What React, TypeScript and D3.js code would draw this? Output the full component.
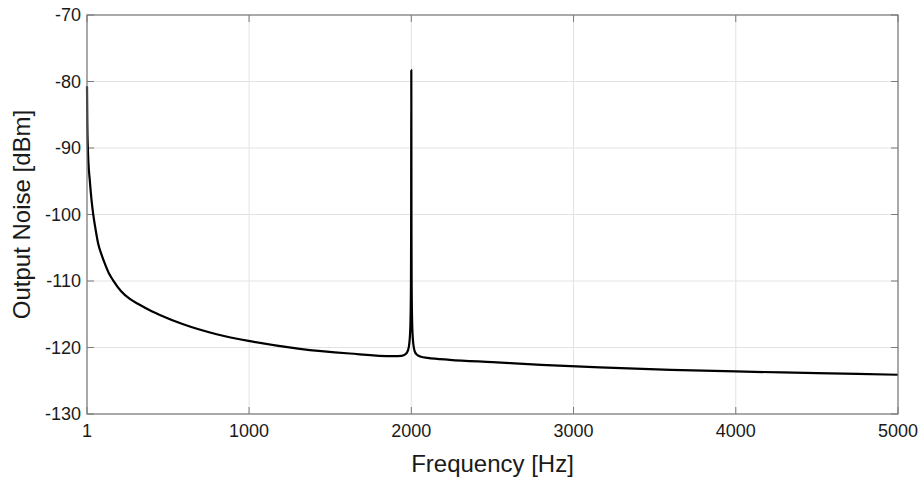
import React from "react";
import * as d3 from "d3";

const freqs = [1, 3, 6, 10, 18, 28, 39, 55, 70, 90, 111, 135, 162, 210, 265, 320, 388, 450, 594, 800, 1005, 1313, 1621, 1888, 1940, 1965, 1980, 1990, 1995, 1998, 1999, 2000, 2001, 2002, 2005, 2010, 2020, 2035, 2060, 2100, 2237, 2500, 2800, 3162, 3600, 4000, 4500, 5000];
const noise = [-80.7, -86.5, -89.8, -92.3, -94.8, -97.6, -99.9, -102.4, -104.4, -106.0, -107.4, -108.8, -109.9, -111.5, -112.7, -113.5, -114.4, -115.1, -116.5, -118.0, -119.05, -120.2, -120.9, -121.3, -121.25, -121.0, -120.4, -118.8, -116.0, -110.0, -102.0, -78.3, -102.0, -110.0, -116.0, -118.8, -120.5, -121.1, -121.4, -121.55, -121.85, -122.2, -122.6, -123.0, -123.35, -123.6, -123.85, -124.1];

const xTicks = [1, 1000, 2000, 3000, 4000, 5000];
const yTicks = [-130, -120, -110, -100, -90, -80, -70];

const W = 922, H = 480;
const M = { left: 87, right: 898, top: 15, bottom: 414 };

export default function App() {
  const x = d3.scaleLinear().domain([1, 5000]).range([M.left, M.right]);
  const y = d3.scaleLinear().domain([-130, -70]).range([M.bottom, M.top]);
  const pts = freqs.map((f, i) => [f, noise[i]] as [number, number]);
  const line = d3.line<[number, number]>().x(d => x(d[0])).y(d => y(d[1])).curve(d3.curveMonotoneX);
  const font = "Liberation Sans, Arial, Helvetica, sans-serif";
  const axisColor = "#7a7a7a";
  const tl = 7;
  return (
    <svg width={W} height={H} style={{ position: "absolute", left: 0, top: 0, background: "#fff" }} fontFamily={font}>
      <rect x={0} y={0} width={W} height={H} fill="#fff" />
      {xTicks.map(t => (
        <line key={"gx" + t} x1={x(t)} x2={x(t)} y1={M.top} y2={M.bottom} stroke="#e3e3e3" strokeWidth={1} />
      ))}
      {yTicks.map(t => (
        <line key={"gy" + t} x1={M.left} x2={M.right} y1={y(t)} y2={y(t)} stroke="#e3e3e3" strokeWidth={1} />
      ))}
      {xTicks.map(t => (
        <g key={"tx" + t}>
          <line x1={x(t)} x2={x(t)} y1={M.bottom} y2={M.bottom - tl} stroke={axisColor} />
          <line x1={x(t)} x2={x(t)} y1={M.top} y2={M.top + tl} stroke={axisColor} />
          <text x={x(t)} y={M.bottom + 23} textAnchor="middle" fontSize={18} fill="#1a1a1a">{t}</text>
        </g>
      ))}
      {yTicks.map(t => (
        <g key={"ty" + t}>
          <line x1={M.left} x2={M.left + tl} y1={y(t)} y2={y(t)} stroke={axisColor} />
          <line x1={M.right} x2={M.right - tl} y1={y(t)} y2={y(t)} stroke={axisColor} />
          <text x={M.left - 6} y={y(t)} dy="0.36em" textAnchor="end" fontSize={18} fill="#1a1a1a">{t}</text>
        </g>
      ))}
      <path d={line(pts) || ""} fill="none" stroke="#000" strokeWidth={2.2} strokeLinejoin="round" />
      <rect x={M.left} y={M.top} width={M.right - M.left} height={M.bottom - M.top} fill="none" stroke={axisColor} strokeWidth={1.2} />
      <text x={(M.left + M.right) / 2} y={472} textAnchor="middle" fontSize={24} fill="#1a1a1a">Frequency [Hz]</text>
      <text transform={`translate(30, ${(M.top + M.bottom) / 2}) rotate(-90)`} textAnchor="middle" fontSize={24} fill="#1a1a1a">Output Noise [dBm]</text>
    </svg>
  );
}
